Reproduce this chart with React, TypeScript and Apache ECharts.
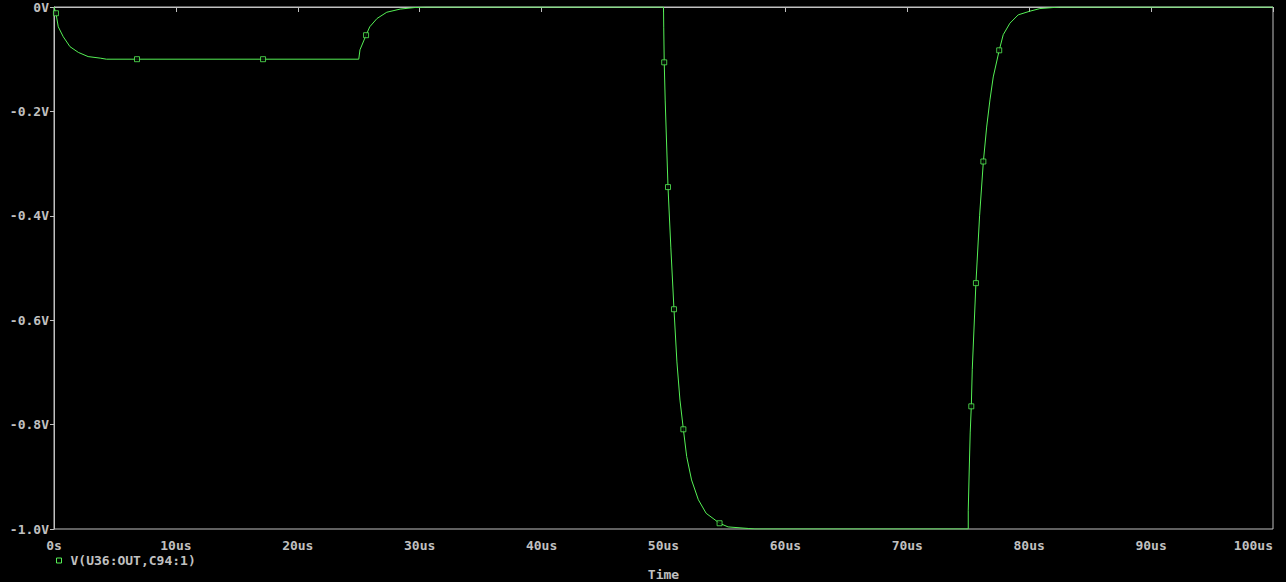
import React, { useEffect, useRef } from "react";
import * as echarts from "echarts";

const seriesName = "V(U36:OUT,C94:1)";

// time in us, voltage in V
const traceTime = [
  0, 0.16, 0.35, 0.76, 1.31, 2.0, 2.8, 3.8, 4.3, 25.0, 25.1, 25.6, 25.9, 26.5, 27.3, 28.4, 29.6, 30.5,
  50.0, 50.02, 50.06, 50.14, 50.37, 50.6, 50.86, 51.1, 51.35, 51.63, 51.9, 52.3, 52.86, 53.5, 54.6, 55.3, 56.95, 57.5,
  75.0, 75.0, 75.08, 75.16, 75.25, 75.33, 75.63, 75.93, 76.24, 76.51, 76.78, 77.05, 77.54, 77.87, 78.42, 79.1, 80.06, 80.88, 81.97, 82.5,
  100,
];
const traceVolt = [
  0, -0.012, -0.038, -0.057, -0.076, -0.087, -0.095, -0.098, -0.1, -0.1, -0.082, -0.054, -0.038, -0.022, -0.01, -0.004, -0.001, 0,
  0, -0.04, -0.106, -0.18, -0.345, -0.46, -0.579, -0.68, -0.753, -0.809, -0.861, -0.906, -0.944, -0.97, -0.989, -0.996, -0.999, -1.0,
  -1.0, -0.964, -0.887, -0.816, -0.765, -0.694, -0.529, -0.4, -0.296, -0.23, -0.178, -0.134, -0.083, -0.053, -0.031, -0.015, -0.008, -0.003, -0.001, 0,
  0,
];

const markerTime = [0.16, 6.81, 17.15, 25.6, 50.06, 50.37, 50.86, 51.63, 54.6, 75.25, 75.63, 76.24, 77.54];
const markerVolt = [-0.012, -0.1, -0.1, -0.054, -0.106, -0.345, -0.579, -0.809, -0.989, -0.765, -0.529, -0.296, -0.083];

const GREEN = "#55f055";
const GRAY = "#c0c0c0";
const FONT = "DejaVu Sans Mono";

export default function App() {
  const ref = useRef<HTMLDivElement>(null);
  useEffect(() => {
    document.body.style.margin = "0";
    document.body.style.background = "#000";
    const chart = echarts.init(ref.current!, undefined, { renderer: "svg" });
    const lineData = traceTime.map((t, i) => [t, traceVolt[i]]);
    const markData = markerTime.map((t, i) => [t, markerVolt[i]]);
    chart.setOption({
      animation: false,
      backgroundColor: "#000",
      grid: {
        left: 54,
        right: 13,
        top: 7,
        bottom: 53,
        show: true,
        borderColor: GRAY,
        borderWidth: 1,
        containLabel: false,
        outerBoundsMode: "none",
      },
      legend: {
        left: 51,
        top: 549,
        itemWidth: 5,
        itemHeight: 5,
        itemGap: 8,
        data: [
          {
            name: seriesName,
            icon: "rect",
            itemStyle: { color: "#000", borderColor: GREEN, borderWidth: 1 },
          },
        ],
        formatter: (name: string) => `{g| }{t|${name}}`,
        textStyle: {
          color: GRAY,
          fontFamily: FONT,
          fontWeight: "bold",
          fontSize: 13,
          rich: {
            g: { width: 4, fontSize: 13, fontFamily: FONT },
            t: { color: GRAY, fontFamily: FONT, fontWeight: "bold", fontSize: 13 },
          },
        },
      },
      xAxis: {
        type: "value",
        min: 0,
        max: 100,
        interval: 10,
        name: "Time",
        nameLocation: "middle",
        nameGap: 39,
        nameTextStyle: { color: GRAY, fontFamily: FONT, fontWeight: "bold", fontSize: 13 },
        axisLine: { show: true, lineStyle: { color: GRAY, width: 1 } },
        axisTick: { show: true, length: 5, lineStyle: { color: GRAY } },
        splitLine: { show: false },
        axisLabel: {
          color: GRAY,
          fontFamily: FONT,
          fontWeight: "bold",
          fontSize: 13,
          margin: 10,
          alignMaxLabel: "right",
          formatter: (v: number) => (v === 0 ? "0s" : `${Math.round(v)}us`),
        },
      },
      yAxis: {
        type: "value",
        min: -1,
        max: 0,
        interval: 0.2,
        axisLine: { show: true, lineStyle: { color: GRAY, width: 1 } },
        axisTick: { show: true, length: 4, lineStyle: { color: GRAY } },
        splitLine: { show: false },
        axisLabel: {
          color: GRAY,
          fontFamily: FONT,
          fontWeight: "bold",
          fontSize: 13,
          margin: 5,
          formatter: (v: number) => (Math.abs(v) < 1e-9 ? "0V" : `${v.toFixed(1)}V`),
        },
      },
      series: [
        {
          name: seriesName,
          type: "line",
          data: lineData,
          showSymbol: false,
          lineStyle: { color: GREEN, width: 1 },
          itemStyle: { color: GREEN },
          z: 3,
        },
        {
          name: seriesName,
          type: "scatter",
          data: markData,
          symbol: "rect",
          symbolSize: 5,
          itemStyle: { color: "#000", borderColor: GREEN, borderWidth: 1 },
          z: 4,
        },
      ],
    });
    return () => chart.dispose();
  }, []);
  return <div ref={ref} style={{ width: 1286, height: 582 }} />;
}
